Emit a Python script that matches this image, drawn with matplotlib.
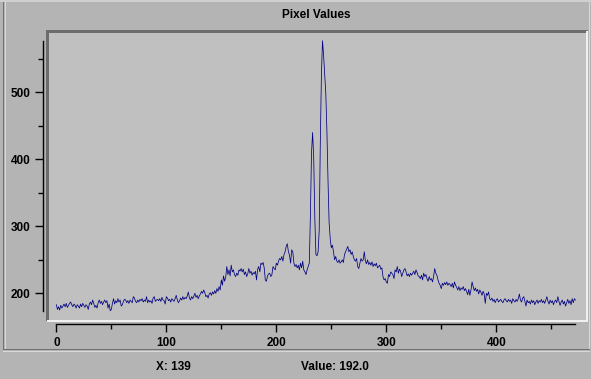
import matplotlib
matplotlib.use("Agg")
import matplotlib.pyplot as plt
from matplotlib.patches import Rectangle
from matplotlib.ticker import MultipleLocator

# pixel values along the profile (index = pixel position)
pixel_values = [
    183, 176, 180, 175, 182, 178, 181, 184, 180, 185,
    179, 182, 185, 187, 183, 180, 184, 182, 178, 183,
    181, 178, 184, 180, 185, 182, 179, 183, 181, 176,
    184, 187, 183, 190, 185, 179, 182, 178, 186, 190,
    185, 188, 183, 187, 190, 186, 189, 178, 184, 174,
    176, 185, 192, 184, 189, 186, 192, 187, 190, 181,
    183, 188, 191, 190, 186, 189, 185, 190, 188, 186,
    195, 193, 188, 186, 190, 187, 191, 189, 192, 187,
    190, 188, 195, 186, 190, 187, 189, 185, 193, 195,
    188, 190, 191, 189, 192, 188, 194, 190, 189, 184,
    195, 193, 189, 191, 187, 192, 190, 188, 192, 197,
    190, 186, 189, 193, 190, 195, 191, 194, 192, 196,
    202, 193, 190, 195, 192, 196, 200, 194, 197, 192,
    196, 199, 203, 200, 205, 201, 195, 197, 193, 199,
    201, 197, 202, 199, 204, 200, 207, 203, 210, 205,
    220, 212, 226, 218, 224, 240, 228, 235, 226, 242,
    232, 235, 228, 225, 230, 227, 235, 233, 237, 232,
    236, 228, 232, 225, 229, 237, 230, 233, 227, 231,
    229, 233, 220, 236, 240, 232, 245, 243, 246, 238,
    220, 218, 226, 229, 230, 225, 228, 240, 237, 235,
    245, 242, 248, 252, 250, 255, 248, 258, 262, 270,
    274, 262, 257, 245, 265, 262, 245, 240, 243, 238,
    242, 235, 245, 238, 248, 235, 232, 228, 235, 240,
    245, 316, 409, 440, 403, 313, 258, 256, 262, 294,
    424, 525, 577, 555, 525, 498, 443, 369, 306, 282,
    268, 272, 262, 250, 255, 248, 246, 250, 245, 247,
    250, 246, 258, 262, 266, 270, 262, 265, 258, 262,
    255, 250, 248, 252, 240, 237, 245, 252, 248, 250,
    262, 248, 244, 250, 243, 246, 242, 247, 240, 244,
    241, 245, 238, 240, 242, 236, 238, 225, 220, 222,
    217, 215, 228, 225, 232, 230, 228, 222, 235, 232,
    240, 230, 236, 233, 225, 230, 235, 237, 232, 226,
    229, 225, 230, 227, 230, 233, 228, 235, 231, 226,
    225, 222, 227, 220, 230, 225, 228, 222, 218, 225,
    220, 222, 217, 225, 237, 230, 227, 220, 215, 212,
    207, 215, 212, 216, 213, 217, 212, 215, 213, 210,
    215, 208, 217, 212, 209, 205, 210, 204, 208, 206,
    210, 204, 207, 203, 198, 206, 197, 205, 217, 210,
    204, 208, 203, 206, 199, 205, 202, 197, 203, 199,
    185, 200, 197, 202, 192, 190, 193, 188, 191, 186,
    190, 192, 187, 189, 191, 188, 186, 190, 192, 189,
    187, 191, 188, 190, 185, 192, 189, 187, 191, 188,
    192, 199, 190, 187, 193, 195, 188, 181, 190, 186,
    188, 184, 190, 186, 189, 183, 187, 190, 185, 189,
    187, 191, 186, 189, 185, 190, 195, 188, 184, 190,
    186, 189, 183, 188, 190, 186, 195, 188, 182, 187,
    190, 184, 188, 181, 186, 191, 185, 189, 183, 192,
    186, 192, 190,
]
positions = list(range(len(pixel_values)))

title = "Pixel Values"
status_x = "X: 139"
status_value = "Value: 192.0"

W, H = 591, 379
BG = "#b4b4b4"
PLOT_BG = "#c0c0c0"
DARK = "#6c6c6c"
LIGHT = "#f0f0f0"
FONT = dict(family=["Liberation Sans", "DejaVu Sans"], weight="bold", size=8.5)

fig = plt.figure(figsize=(W / 100, H / 100), dpi=100, facecolor=BG)


def px_rect(x0, y0, x1, y1, color):
    # rectangle given in pixel coords measured from the top-left corner
    fig.add_artist(Rectangle((x0 / W, 1 - y1 / H), (x1 - x0) / W, (y1 - y0) / H,
                             transform=fig.transFigure, facecolor=color,
                             edgecolor="none", lw=0))


# plot area (sunken panel)
ax = fig.add_axes([46 / W, 1 - 321 / H, 542 / W, 291 / H], facecolor=PLOT_BG)
ax.plot(positions, pixel_values, color="#000080", lw=0.55, antialiased=True)

ax.set_xlim(-9.4, 483.4)
ax.set_ylim(158.7, 593.0)

for side in ("top", "right"):
    ax.spines[side].set_visible(False)
ax.spines["left"].set_position(("outward", 2.2))
ax.spines["bottom"].set_position(("outward", 2.4))
ax.spines["left"].set_bounds(min(pixel_values), max(pixel_values))
ax.spines["bottom"].set_bounds(positions[0], positions[-1])
for side in ("left", "bottom"):
    ax.spines[side].set_linewidth(1.0)
    ax.spines[side].set_color("black")

ax.xaxis.set_major_locator(MultipleLocator(100))
ax.xaxis.set_minor_locator(MultipleLocator(50))
ax.yaxis.set_major_locator(MultipleLocator(100))
ax.yaxis.set_minor_locator(MultipleLocator(50))
ax.tick_params(which="major", length=5.8, width=1.0, color="black", pad=3.2)
ax.tick_params(which="minor", length=3.4, width=1.0, color="black")
ax.tick_params(axis="x", which="major", pad=3.6)
for lab in ax.get_xticklabels() + ax.get_yticklabels():
    lab.set_fontfamily(FONT["family"])
    lab.set_fontweight("bold")
    lab.set_fontsize(FONT["size"])


# hide tick marks that fall outside the drawn axis lines
def clip_ticks(axis, lo, hi):
    for t in axis.get_major_ticks() + axis.get_minor_ticks():
        v = t.get_loc()
        if v < lo - 1e-9 or v > hi + 1e-9:
            t.set_visible(False)


fig.canvas.draw()
clip_ticks(ax.xaxis, positions[0], positions[-1])
clip_ticks(ax.yaxis, min(pixel_values), max(pixel_values))

# bevel of the plot panel
px_rect(46, 30, 588, 33, DARK)
px_rect(46, 30, 49, 321, DARK)
px_rect(586, 31, 588, 321, LIGHT)
px_rect(47, 320, 588, 322, LIGHT)

# outer frame and status bar separators
px_rect(0, 0, W, 2, "#d0d0d0")
px_rect(3, 2, 4, 350, "#707070")
px_rect(5, 2, 6, 349, "#d8d8d8")
px_rect(589, 2, 590, 350, "#d8d8d8")
px_rect(3, 349, 590, 350, "#707070")
px_rect(3, 351, 590, 352, "#d8d8d8")

fig.text(316 / W, 1 - 14.5 / H, title, ha="center", va="center", **FONT)
fig.text(173 / W, 1 - 367 / H, status_x, ha="center", va="center", **FONT)
fig.text(301 / W, 1 - 367 / H, status_value, ha="left", va="center", **FONT)

fig.savefig("out.png", dpi=100, facecolor=BG)
